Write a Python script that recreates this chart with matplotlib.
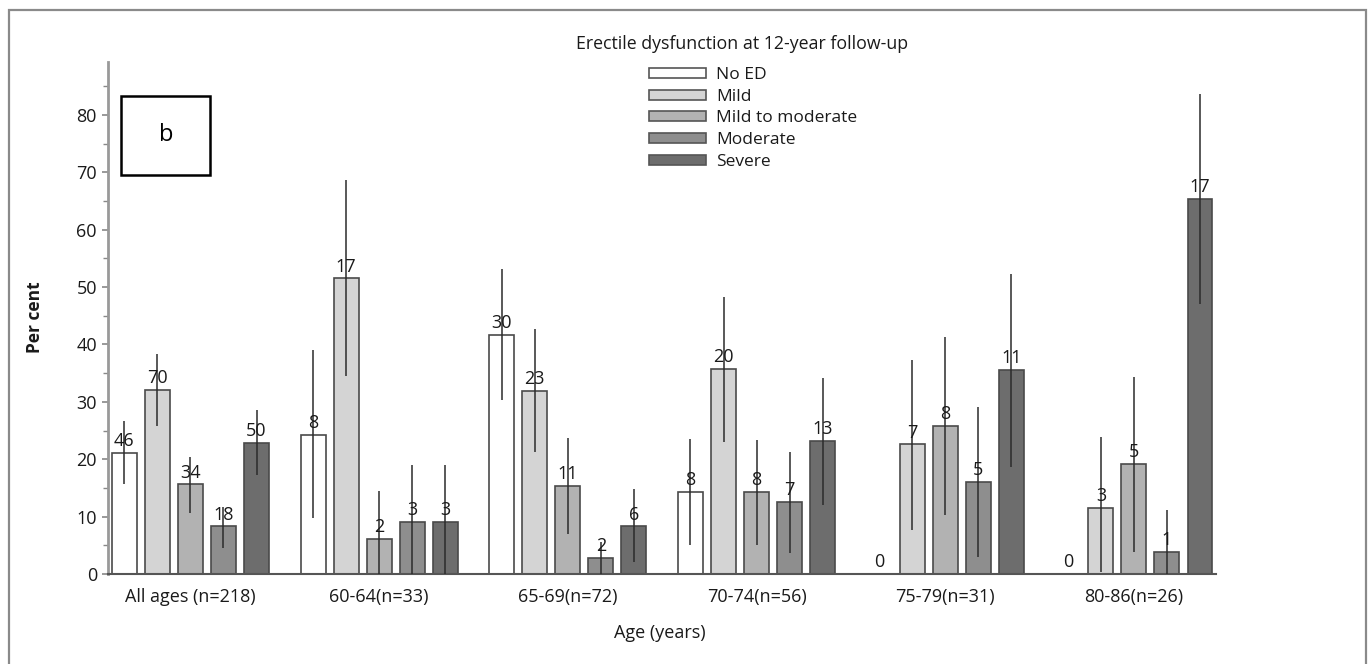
import numpy as np
import matplotlib
matplotlib.use("Agg")
import matplotlib.pyplot as plt
from matplotlib.patches import Rectangle, Patch

plt.rcParams['font.family'] = ['Open Sans', 'DejaVu Sans']

# data
groups = ['All ages (n=218)', '60-64(n=33)', '65-69(n=72)', '70-74(n=56)', '75-79(n=31)', '80-86(n=26)']
series = ['No ED', 'Mild', 'Mild to moderate', 'Moderate', 'Severe']

no_ed = [21.1, 24.2, 41.7, 14.3, 0.0, 0.0]
mild = [32.1, 51.5, 31.9, 35.7, 22.6, 11.5]
mild_mod = [15.6, 6.1, 15.3, 14.3, 25.8, 19.2]
moderate = [8.3, 9.1, 2.8, 12.5, 16.1, 3.8]
severe = [22.9, 9.1, 8.3, 23.2, 35.5, 65.4]

no_ed_n = [46, 8, 30, 8, 0, 0]
mild_n = [70, 17, 23, 20, 7, 3]
mild_mod_n = [34, 2, 11, 8, 8, 5]
moderate_n = [18, 3, 2, 7, 5, 1]
severe_n = [50, 3, 6, 13, 11, 17]

no_ed_lo = [15.6, 9.8, 30.3, 5.1, 0, 0]
no_ed_hi = [26.7, 39.0, 53.1, 23.5, 0, 0]
mild_lo = [25.8, 34.5, 21.3, 23.0, 7.7, 0.3]
mild_hi = [38.3, 68.7, 42.7, 48.3, 37.3, 23.9]
mild_mod_lo = [10.6, 0.0, 7.0, 5.1, 10.3, 3.8]
mild_mod_hi = [20.4, 14.5, 23.7, 23.3, 41.3, 34.3]
moderate_lo = [4.6, 0.0, 0.0, 3.7, 3.0, 0.0]
moderate_hi = [11.7, 19.0, 5.5, 21.3, 29.1, 11.1]
severe_lo = [17.3, 0.0, 2.1, 12.0, 18.6, 47.0]
severe_hi = [28.6, 19.0, 14.8, 34.1, 52.3, 83.6]

values = [no_ed, mild, mild_mod, moderate, severe]
counts = [no_ed_n, mild_n, mild_mod_n, moderate_n, severe_n]
lows = [no_ed_lo, mild_lo, mild_mod_lo, moderate_lo, severe_lo]
highs = [no_ed_hi, mild_hi, mild_mod_hi, moderate_hi, severe_hi]
colors = ['#ffffff', '#d4d4d4', '#b2b2b2', '#8e8e8e', '#6d6d6d']

W, H = 1370, 664
fig = plt.figure(figsize=(W / 100, H / 100), dpi=100, facecolor='white')

# outer frame of the panel (bottom edge falls off the image)
fig.patches.append(Rectangle((9 / W, -0.02), (1366 - 9) / W, 1 - 10 / H + 0.02,
                             transform=fig.transFigure, fill=False,
                             edgecolor='#8a8a8a', lw=1.6))

ax = fig.add_axes([108 / W, 1 - 574 / H, (1216 - 108) / W, (574 - 62) / H])

x = np.arange(len(groups))
pitch = 0.175
width = 0.132
for k, (name, vals) in enumerate(zip(series, values)):
    pos = x + (k - 2) * pitch
    ax.bar(pos, vals, width, color=colors[k], edgecolor='#4a4a4a', lw=1.2, zorder=2)
    for p, v, lo, hi, n in zip(pos, vals, lows[k], highs[k], counts[k]):
        if hi > 0:
            ax.vlines(p, lo, hi, color='#2b2b2b', lw=1.1, zorder=3)
        ax.annotate(str(n), (p, v), xytext=(0, 2), textcoords='offset points',
                    ha='center', va='bottom', fontsize=13, color='#1a1a1a', zorder=4)

ax.set_xlim(-0.437, 5.435)
ax.set_ylim(0, 89.2)
ax.set_yticks(np.arange(0, 81, 10))
ax.set_yticks(np.arange(5, 86, 10), minor=True)
ax.set_xticks(x)
ax.set_xticklabels(groups, fontsize=13, color='#1a1a1a')
ax.tick_params(axis='x', length=0, pad=10)
ax.tick_params(axis='y', which='both', direction='out', color='#888888', labelsize=13,
               labelcolor='#1a1a1a', pad=4)
ax.tick_params(axis='y', which='major', length=4, width=1.2)
ax.tick_params(axis='y', which='minor', length=3.5, width=1.0)

for s in ['top', 'right']:
    ax.spines[s].set_visible(False)
ax.spines['left'].set_color('#999999')
ax.spines['left'].set_linewidth(2)
ax.spines['bottom'].set_color('#555555')
ax.spines['bottom'].set_linewidth(1.5)

ax.set_ylabel('Per cent', fontsize=12.5, fontweight='bold', color='#1a1a1a')
ax.yaxis.set_label_coords((35 - 108) / 1108, (574 - 317) / 512)
ax.yaxis.label.set_va('center')
ax.set_xlabel('Age (years)', fontsize=13, color='#1a1a1a')
ax.xaxis.set_label_coords((660 - 108) / 1108, (574 - 633) / 512)
ax.xaxis.label.set_va('center')

fig.text(742 / W, 1 - 44 / H, 'Erectile dysfunction at 12-year follow-up', ha='center',
         va='center', fontsize=12.8, color='#1a1a1a')

handles = [Patch(facecolor=c, edgecolor='#555555', lw=1.2) for c in colors]
fig.legend(handles, series, loc='upper left', bbox_to_anchor=(649 / W, 1 - 67 / H),
           bbox_transform=fig.transFigure, frameon=False, fontsize=12.5,
           labelcolor='#1a1a1a', handlelength=3.3, handleheight=0.5, handletextpad=0.55,
           labelspacing=0.33, borderpad=0, borderaxespad=0)

# panel letter box
fig.patches.append(Rectangle((121 / W, 1 - 175 / H), 89 / W, 79 / H,
                             transform=fig.transFigure, fill=False,
                             edgecolor='black', lw=1.8))
fig.text(166 / W, 1 - 135 / H, 'b', ha='center', va='center', fontsize=17)

fig.savefig('out.png', dpi=100, facecolor='white')
